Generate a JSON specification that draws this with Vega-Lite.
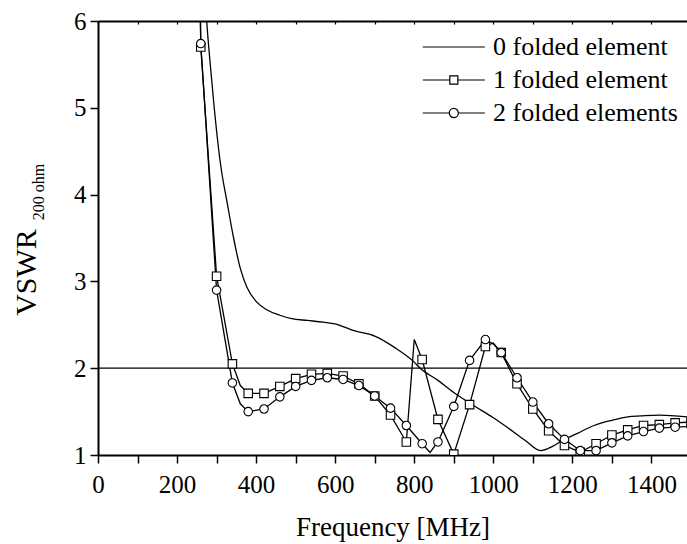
{
  "$schema": "https://vega.github.io/schema/vega-lite/v6.json",
  "width": 589,
  "height": 434,
  "autosize": "none",
  "padding": {"left": 98, "top": 21, "right": 0, "bottom": 89},
  "background": "white",
  "config": {
    "view": {"stroke": null},
    "font": "Liberation Serif",
    "axis": {"domainColor": "black", "tickColor": "black", "labelColor": "black", "titleColor": "black", "grid": false, "labelFont": "Liberation Serif", "titleFont": "Liberation Serif", "labelFlush": false, "labelOverlap": false},
    "legend": {"labelFont": "Liberation Serif", "labelColor": "black"}
  },
  "datasets": {
    "curves": [
      {"freq": 265, "vswr": 6.8, "series": "0 folded element", "sampled": false},
      {"freq": 275, "vswr": 6.0, "series": "0 folded element", "sampled": false},
      {"freq": 285, "vswr": 5.45, "series": "0 folded element", "sampled": false},
      {"freq": 293, "vswr": 5.05, "series": "0 folded element", "sampled": false},
      {"freq": 310, "vswr": 4.35, "series": "0 folded element", "sampled": false},
      {"freq": 327, "vswr": 3.9, "series": "0 folded element", "sampled": false},
      {"freq": 343, "vswr": 3.5, "series": "0 folded element", "sampled": false},
      {"freq": 360, "vswr": 3.15, "series": "0 folded element", "sampled": false},
      {"freq": 377, "vswr": 2.93, "series": "0 folded element", "sampled": false},
      {"freq": 400, "vswr": 2.77, "series": "0 folded element", "sampled": false},
      {"freq": 428, "vswr": 2.67, "series": "0 folded element", "sampled": false},
      {"freq": 460, "vswr": 2.61, "series": "0 folded element", "sampled": false},
      {"freq": 490, "vswr": 2.57, "series": "0 folded element", "sampled": false},
      {"freq": 530, "vswr": 2.55, "series": "0 folded element", "sampled": false},
      {"freq": 570, "vswr": 2.53, "series": "0 folded element", "sampled": false},
      {"freq": 600, "vswr": 2.51, "series": "0 folded element", "sampled": false},
      {"freq": 620, "vswr": 2.48, "series": "0 folded element", "sampled": false},
      {"freq": 650, "vswr": 2.43, "series": "0 folded element", "sampled": false},
      {"freq": 700, "vswr": 2.37, "series": "0 folded element", "sampled": false},
      {"freq": 750, "vswr": 2.24, "series": "0 folded element", "sampled": false},
      {"freq": 800, "vswr": 2.07, "series": "0 folded element", "sampled": false},
      {"freq": 815, "vswr": 2.0, "series": "0 folded element", "sampled": false},
      {"freq": 860, "vswr": 1.86, "series": "0 folded element", "sampled": false},
      {"freq": 900, "vswr": 1.72, "series": "0 folded element", "sampled": false},
      {"freq": 950, "vswr": 1.57, "series": "0 folded element", "sampled": false},
      {"freq": 1000, "vswr": 1.43, "series": "0 folded element", "sampled": false},
      {"freq": 1035, "vswr": 1.32, "series": "0 folded element", "sampled": false},
      {"freq": 1080, "vswr": 1.17, "series": "0 folded element", "sampled": false},
      {"freq": 1120, "vswr": 1.05, "series": "0 folded element", "sampled": false},
      {"freq": 1150, "vswr": 1.1, "series": "0 folded element", "sampled": false},
      {"freq": 1180, "vswr": 1.18, "series": "0 folded element", "sampled": false},
      {"freq": 1213, "vswr": 1.25, "series": "0 folded element", "sampled": false},
      {"freq": 1255, "vswr": 1.34, "series": "0 folded element", "sampled": false},
      {"freq": 1300, "vswr": 1.4, "series": "0 folded element", "sampled": false},
      {"freq": 1340, "vswr": 1.44, "series": "0 folded element", "sampled": false},
      {"freq": 1373, "vswr": 1.45, "series": "0 folded element", "sampled": false},
      {"freq": 1420, "vswr": 1.46, "series": "0 folded element", "sampled": false},
      {"freq": 1490, "vswr": 1.44, "series": "0 folded element", "sampled": false},

      {"freq": 240, "vswr": 12, "series": "1 folded element", "sampled": false},
      {"freq": 260, "vswr": 5.7, "series": "1 folded element", "sampled": true},
      {"freq": 300, "vswr": 3.06, "series": "1 folded element", "sampled": true},
      {"freq": 340, "vswr": 2.05, "series": "1 folded element", "sampled": true},
      {"freq": 360, "vswr": 1.8, "series": "1 folded element", "sampled": false},
      {"freq": 380, "vswr": 1.71, "series": "1 folded element", "sampled": true},
      {"freq": 420, "vswr": 1.71, "series": "1 folded element", "sampled": true},
      {"freq": 460, "vswr": 1.79, "series": "1 folded element", "sampled": true},
      {"freq": 500, "vswr": 1.88, "series": "1 folded element", "sampled": true},
      {"freq": 540, "vswr": 1.93, "series": "1 folded element", "sampled": true},
      {"freq": 580, "vswr": 1.94, "series": "1 folded element", "sampled": true},
      {"freq": 620, "vswr": 1.91, "series": "1 folded element", "sampled": true},
      {"freq": 660, "vswr": 1.82, "series": "1 folded element", "sampled": true},
      {"freq": 700, "vswr": 1.68, "series": "1 folded element", "sampled": true},
      {"freq": 740, "vswr": 1.46, "series": "1 folded element", "sampled": true},
      {"freq": 780, "vswr": 1.15, "series": "1 folded element", "sampled": true},
      {"freq": 800, "vswr": 2.33, "series": "1 folded element", "sampled": false},
      {"freq": 820, "vswr": 2.1, "series": "1 folded element", "sampled": true},
      {"freq": 860, "vswr": 1.41, "series": "1 folded element", "sampled": true},
      {"freq": 900, "vswr": 1.01, "series": "1 folded element", "sampled": true},
      {"freq": 940, "vswr": 1.58, "series": "1 folded element", "sampled": true},
      {"freq": 980, "vswr": 2.25, "series": "1 folded element", "sampled": true},
      {"freq": 1000, "vswr": 2.29, "series": "1 folded element", "sampled": false},
      {"freq": 1020, "vswr": 2.18, "series": "1 folded element", "sampled": true},
      {"freq": 1060, "vswr": 1.82, "series": "1 folded element", "sampled": true},
      {"freq": 1100, "vswr": 1.53, "series": "1 folded element", "sampled": true},
      {"freq": 1140, "vswr": 1.28, "series": "1 folded element", "sampled": true},
      {"freq": 1180, "vswr": 1.11, "series": "1 folded element", "sampled": true},
      {"freq": 1220, "vswr": 1.03, "series": "1 folded element", "sampled": true},
      {"freq": 1260, "vswr": 1.13, "series": "1 folded element", "sampled": true},
      {"freq": 1300, "vswr": 1.23, "series": "1 folded element", "sampled": true},
      {"freq": 1340, "vswr": 1.29, "series": "1 folded element", "sampled": true},
      {"freq": 1380, "vswr": 1.34, "series": "1 folded element", "sampled": true},
      {"freq": 1420, "vswr": 1.35, "series": "1 folded element", "sampled": true},
      {"freq": 1460, "vswr": 1.37, "series": "1 folded element", "sampled": true},
      {"freq": 1500, "vswr": 1.38, "series": "1 folded element", "sampled": true},

      {"freq": 240, "vswr": 12, "series": "2 folded elements", "sampled": false},
      {"freq": 260, "vswr": 5.74, "series": "2 folded elements", "sampled": true},
      {"freq": 300, "vswr": 2.9, "series": "2 folded elements", "sampled": true},
      {"freq": 340, "vswr": 1.83, "series": "2 folded elements", "sampled": true},
      {"freq": 360, "vswr": 1.59, "series": "2 folded elements", "sampled": false},
      {"freq": 380, "vswr": 1.5, "series": "2 folded elements", "sampled": true},
      {"freq": 420, "vswr": 1.53, "series": "2 folded elements", "sampled": true},
      {"freq": 460, "vswr": 1.67, "series": "2 folded elements", "sampled": true},
      {"freq": 500, "vswr": 1.79, "series": "2 folded elements", "sampled": true},
      {"freq": 540, "vswr": 1.86, "series": "2 folded elements", "sampled": true},
      {"freq": 580, "vswr": 1.89, "series": "2 folded elements", "sampled": true},
      {"freq": 620, "vswr": 1.87, "series": "2 folded elements", "sampled": true},
      {"freq": 660, "vswr": 1.8, "series": "2 folded elements", "sampled": true},
      {"freq": 700, "vswr": 1.68, "series": "2 folded elements", "sampled": true},
      {"freq": 740, "vswr": 1.54, "series": "2 folded elements", "sampled": true},
      {"freq": 780, "vswr": 1.34, "series": "2 folded elements", "sampled": true},
      {"freq": 820, "vswr": 1.13, "series": "2 folded elements", "sampled": true},
      {"freq": 840, "vswr": 1.03, "series": "2 folded elements", "sampled": false},
      {"freq": 860, "vswr": 1.15, "series": "2 folded elements", "sampled": true},
      {"freq": 900, "vswr": 1.56, "series": "2 folded elements", "sampled": true},
      {"freq": 940, "vswr": 2.09, "series": "2 folded elements", "sampled": true},
      {"freq": 980, "vswr": 2.33, "series": "2 folded elements", "sampled": true},
      {"freq": 1000, "vswr": 2.28, "series": "2 folded elements", "sampled": false},
      {"freq": 1020, "vswr": 2.18, "series": "2 folded elements", "sampled": true},
      {"freq": 1060, "vswr": 1.89, "series": "2 folded elements", "sampled": true},
      {"freq": 1100, "vswr": 1.61, "series": "2 folded elements", "sampled": true},
      {"freq": 1140, "vswr": 1.36, "series": "2 folded elements", "sampled": true},
      {"freq": 1180, "vswr": 1.18, "series": "2 folded elements", "sampled": true},
      {"freq": 1220, "vswr": 1.05, "series": "2 folded elements", "sampled": true},
      {"freq": 1260, "vswr": 1.05, "series": "2 folded elements", "sampled": true},
      {"freq": 1300, "vswr": 1.14, "series": "2 folded elements", "sampled": true},
      {"freq": 1340, "vswr": 1.22, "series": "2 folded elements", "sampled": true},
      {"freq": 1380, "vswr": 1.27, "series": "2 folded elements", "sampled": true},
      {"freq": 1420, "vswr": 1.31, "series": "2 folded elements", "sampled": true},
      {"freq": 1460, "vswr": 1.32, "series": "2 folded elements", "sampled": true},
      {"freq": 1500, "vswr": 1.33, "series": "2 folded elements", "sampled": true}
    ]
  },
  "resolve": {"axis": {"x": "independent", "y": "independent"}, "scale": {"shape": "independent"}},
  "layer": [
    {
      "data": {"values": [{"limit": 2}]},
      "mark": {"type": "rule", "stroke": "black", "strokeWidth": 1.3},
      "encoding": {
        "y": {
          "field": "limit", "type": "quantitative",
          "scale": {"domain": [1, 6], "nice": false, "zero": false},
          "axis": {"orient": "left", "labels": false, "ticks": false, "domain": false, "grid": false,
                   "title": "200 ohm", "titleFont": "Liberation Serif", "titleFontSize": 16, "titleFontWeight": "normal", "titleColor": "black",
                   "titleX": -55, "titleY": 170.5, "titleAngle": 270, "titleAlign": "center", "titleBaseline": "alphabetic"}
        }
      }
    },
    {
      "data": {"name": "curves"},
      "transform": [{"filter": "datum.series === '0 folded element'"}],
      "mark": {"type": "line", "stroke": "black", "strokeWidth": 1.3, "clip": true, "interpolate": "monotone"},
      "encoding": {
        "x": {
          "field": "freq", "type": "quantitative",
          "scale": {"domain": [0, 1490], "nice": false, "zero": false},
          "axis": {"orient": "bottom", "values": [0,100,200,300,400,500,600,700,800,900,1000,1100,1200,1300,1400],
                   "format": "d",
                   "labelExpr": "datum.value % 200 === 0 ? datum.label : ''",
                   "labelFont": "Liberation Serif", "labelColor": "black",
                   "tickSize": 8, "tickWidth": 1.5, "domainWidth": 2, "labelPadding": 9, "labelFontSize": 25,
                   "title": "Frequency [MHz]", "titleFont": "Liberation Serif", "titleColor": "black", "titleFontSize": 27, "titleFontWeight": "normal",
                   "titleY": 80, "titleBaseline": "alphabetic",
                   "encode": {"ticks": {"update": {"y2": {"signal": "datum.value % 200 === 0 ? 8 : 4"}}}}}
        },
        "y": {
          "field": "vswr", "type": "quantitative",
          "scale": {"domain": [1, 6], "nice": false, "zero": false},
          "axis": {"orient": "left", "values": [1,1.5,2,2.5,3,3.5,4,4.5,5,5.5,6],
                   "format": "d",
                   "labelExpr": "datum.value % 1 === 0 ? datum.label : ''",
                   "labelFont": "Liberation Serif", "labelColor": "black",
                   "tickSize": 8, "tickWidth": 1.5, "domainWidth": 2, "labelPadding": 4, "labelFontSize": 25,
                   "title": "VSWR", "titleFont": "Liberation Serif", "titleColor": "black", "titleFontSize": 30, "titleFontWeight": "normal",
                   "titleX": -63, "titleY": 251, "titleAngle": 270, "titleAlign": "center", "titleBaseline": "alphabetic",
                   "encode": {"ticks": {"update": {"x2": {"signal": "datum.value % 1 === 0 ? -8 : -4"}}}}}
        }
      }
    },
    {
      "data": {"name": "curves"},
      "transform": [{"filter": "datum.series !== '0 folded element'"}],
      "mark": {"type": "line", "stroke": "black", "strokeWidth": 1.3, "clip": true},
      "encoding": {
        "x": {"field": "freq", "type": "quantitative", "axis": null},
        "y": {"field": "vswr", "type": "quantitative", "axis": null},
        "detail": {"field": "series", "type": "nominal"}
      }
    },
    {
      "data": {"name": "curves"},
      "transform": [{"filter": {"field": "sampled", "equal": true}}],
      "mark": {"type": "point", "filled": true, "fill": "white", "stroke": "black", "strokeWidth": 1.1, "size": 72, "opacity": 1, "clip": true},
      "encoding": {
        "x": {
          "field": "freq", "type": "quantitative",
          "axis": {"orient": "top", "values": [0,100,200,300,400,500,600,700,800,900,1000,1100,1200,1300,1400],
                   "labels": false, "tickSize": -3, "tickWidth": 1.2, "domainWidth": 2, "title": null}
        },
        "y": {"field": "vswr", "type": "quantitative", "axis": null},
        "shape": {
          "field": "series", "type": "nominal",
          "scale": {"domain": ["1 folded element", "2 folded elements"], "range": ["square", "circle"]},
          "legend": null
        }
      }
    },
    {
      "data": {"name": "curves"},
      "transform": [{"aggregate": [{"op": "count", "as": "rows"}], "groupby": ["series"]}],
      "mark": {"type": "point", "filled": false, "opacity": 0, "stroke": "black", "strokeWidth": 1.2},
      "encoding": {
        "shape": {
          "field": "series", "type": "nominal",
          "scale": {"domain": ["0 folded element", "1 folded element", "2 folded elements"],
                    "range": ["M-1,0H9", "M-1,0H3.35M4.65,0H9M3.35,-0.65H4.65V0.65H3.35Z", "M-1,0H3.27M4.73,0H9M3.27,0A0.73,0.73 0 1,0 4.73,0A0.73,0.73 0 1,0 3.27,0Z"]},
          "legend": {
            "title": null, "orient": "none", "legendX": 318, "legendY": 13, "padding": 0,
            "rowPadding": 7, "labelFont": "Liberation Serif", "labelColor": "black", "labelFontSize": 26, "labelOffset": 51, "labelLimit": 400,
            "symbolSize": 154, "symbolStrokeWidth": 1.2, "symbolStrokeColor": "black", "symbolOpacity": 1,
            "encode": {"symbols": {"update": {"opacity": {"value": 1}, "stroke": {"value": "black"}, "strokeWidth": {"value": 1.2}, "fill": {"value": "transparent"}}}}
          }
        }
      }
    }
  ]
}
